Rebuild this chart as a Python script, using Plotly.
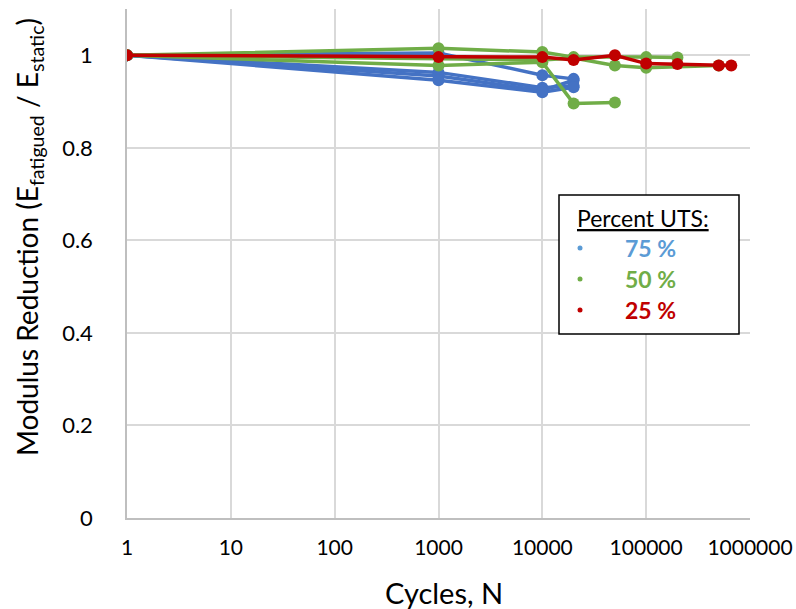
import plotly.graph_objects as go

# ---- data ----
blue_x = [
    [1, 1000, 10000, 20000],
    [1, 1000, 10000, 20000],
    [1, 1000, 10000, 20000],
    [1, 1000, 10000, 20000],
]
blue_y = [
    [1, 1.005, 0.957, 0.949],
    [1, 0.963, 0.930, 0.934],
    [1, 0.955, 0.924, 0.946],
    [1, 0.946, 0.920, 0.931],
]
green_x = [
    [1, 1000, 10000, 20000, 100000, 200000],
    [1, 1000, 10000, 20000, 50000],
    [1, 10000, 20000, 50000, 100000, 500000],
]
green_y = [
    [1, 1.015, 1.007, 0.996, 0.996, 0.995],
    [1, 0.978, 0.985, 0.896, 0.898],
    [1, 0.990, 0.994, 0.978, 0.973, 0.978],
]
red_x = [[1, 1000, 10000, 20000, 50000, 100000, 200000, 500000, 660000]]
red_y = [[1, 0.996, 0.996, 0.990, 1.000, 0.982, 0.981, 0.978, 0.978]]

x_tickvals = [1, 10, 100, 1000, 10000, 100000, 1000000]
x_ticktext = ["1", "10", "100", "1000", "10000", "100000", "1000000"]
y_tickvals = [0, 0.2, 0.4, 0.6, 0.8, 1]
y_ticktext = ["0", "0.2", "0.4", "0.6", "0.8", "1"]

x_title = "Cycles, N"
y_title = "Modulus Reduction (E<sub>fatigued</sub> / E<sub>static</sub>)"
legend_title = "Percent UTS:"
legend_labels = ["75 %", "50 %", "25 %"]

BLUE = "#4472C4"
GREEN = "#70AD47"
RED = "#C00000"
LEG_COLORS = ["#5B9BD5", "#70AD47", "#C00000"]
FONT = "Lato"

fig = go.Figure()

def add_group(xs, ys, color):
    for x, y in zip(xs, ys):
        fig.add_trace(go.Scatter(
            x=x, y=y, mode="lines+markers",
            line=dict(color=color, width=3.5),
            marker=dict(color=color, size=12),
            showlegend=False, hoverinfo="x+y",
        ))

add_group(blue_x, blue_y, BLUE)
add_group(green_x, green_y, GREEN)
add_group(red_x, red_y, RED)

L, R, T, B = 127, 46, 9, 91
W, H = 796, 609
PW, PH = W - L - R, H - T - B

def px_x(p):
    return (p - L) / PW

def px_y(p):
    return (H - B - p) / PH

fig.update_layout(
    width=W, height=H,
    margin=dict(l=L, r=R, t=T, b=B),
    paper_bgcolor="white", plot_bgcolor="white",
    font=dict(family=FONT, color="#000000"),
    showlegend=False,
)

fig.update_xaxes(
    type="log", range=[0, 6], automargin=False,
    tickvals=x_tickvals, ticktext=x_ticktext,
    tickfont=dict(size=21, family=FONT),
    ticklabelstandoff=10,
    showgrid=True, gridcolor="#D9D9D9", gridwidth=1.5,
    showline=True, linecolor="#BFBFBF", linewidth=1.5,
    zeroline=False, ticks="",
)
fig.update_yaxes(
    range=[0, 1.1], automargin=False,
    tickvals=y_tickvals, ticktext=y_ticktext,
    tickfont=dict(size=22, family=FONT),
    ticklabelstandoff=28,
    showgrid=True, gridcolor="#D9D9D9", gridwidth=1.5,
    showline=True, linecolor="#BFBFBF", linewidth=1.5,
    zeroline=False, ticks="",
)

# axis titles
fig.add_annotation(xref="paper", yref="paper", x=px_x(444), y=px_y(592),
                   xanchor="center", yanchor="middle", showarrow=False,
                   text=x_title, font=dict(size=29, family=FONT, color="black"))
fig.add_annotation(xref="paper", yref="paper", x=px_x(29), y=px_y(237),
                   xanchor="center", yanchor="middle", showarrow=False, textangle=-90,
                   text=y_title, font=dict(size=28, family=FONT, color="black"))

# legend box
fig.add_shape(type="rect", xref="paper", yref="paper",
              x0=px_x(559), x1=px_x(739), y0=px_y(334), y1=px_y(195),
              line=dict(color="black", width=1.5), fillcolor="white", layer="above")

fig.add_annotation(xref="paper", yref="paper", x=px_x(575), y=px_y(218),
                   xanchor="left", yanchor="middle", showarrow=False,
                   text="<u>" + legend_title + "</u>",
                   font=dict(size=23, family=FONT, color="black"))
rows = [248, 279, 310]
for lab, col, yy in zip(legend_labels, LEG_COLORS, rows):
    fig.add_shape(type="circle", xref="paper", yref="paper",
                  x0=px_x(577.5), x1=px_x(582.5), y0=px_y(yy + 2.5), y1=px_y(yy - 2.5),
                  line=dict(width=0), fillcolor=col, layer="above")
    fig.add_annotation(xref="paper", yref="paper", x=px_x(623), y=px_y(yy),
                       xanchor="left", yanchor="middle", showarrow=False,
                       text="<b>" + lab + "</b>", font=dict(size=23, family=FONT, color=col))

fig.write_html("out.html")
